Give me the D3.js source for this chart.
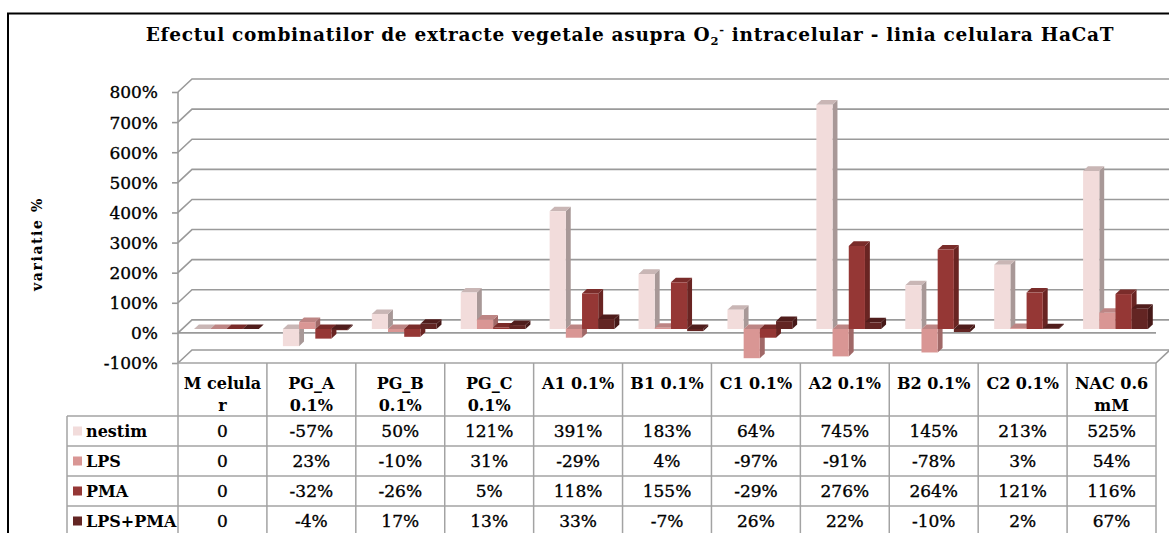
<!DOCTYPE html>
<html>
<head>
<meta charset="utf-8">
<script src="https://cdn.jsdelivr.net/npm/d3@7"></script>
<style>
  body { margin: 0; background: #fff; }
  svg { display: block; }
  text { font-family: "DejaVu Serif", serif; fill: #000; }
</style>
</head>
<body>
<div id="app"></div>
<script>
const categories = ["M celular", "PG_A 0.1%", "PG_B 0.1%", "PG_C 0.1%", "A1 0.1%", "B1 0.1%", "C1 0.1%", "A2 0.1%", "B2 0.1%", "C2 0.1%", "NAC 0.6 mM"];
// header text as it wraps in the data table
const categoryLines = [["M celula", "r"], ["PG_A", "0.1%"], ["PG_B", "0.1%"], ["PG_C", "0.1%"], ["A1 0.1%"], ["B1 0.1%"], ["C1 0.1%"], ["A2 0.1%"], ["B2 0.1%"], ["C2 0.1%"], ["NAC 0.6", "mM"]];
const seriesNames = ["nestim", "LPS", "PMA", "LPS+PMA"];
const nestim = [0, -57, 50, 121, 391, 183, 64, 745, 145, 213, 525];
const lps = [0, 23, -10, 31, -29, 4, -97, -91, -78, 3, 54];
const pma = [0, -32, -26, 5, 118, 155, -29, 276, 264, 121, 116];
const lpsPma = [0, -4, 17, 13, 33, -7, 26, 22, -10, 2, 67];
const yTicks = [-100, 0, 100, 200, 300, 400, 500, 600, 700, 800];

const seriesValues = [nestim, lps, pma, lpsPma];
const colors = {
  front: ["#f2dcdb", "#d99694", "#953735", "#632523"],
  top: ["#c9b6b5", "#bd8584", "#7a2c2a", "#501d1c"],
  side: ["#a89897", "#a06867", "#692422", "#461918"]
};

const width = 1169;
const height = 533;
const left = 178, right = 1156;
const depthX = 14, depthY = -13; // wall depth
const barD0 = 0.3, barD1 = 0.65;  // bars sit in the middle of the depth

const svg = d3.select("#app").append("svg")
  .attr("width", width)
  .attr("height", height)
  .attr("viewBox", [0, 0, width, height]);

const x = d3.scaleBand().domain(categories).range([left, right]);
const y = d3.scaleLinear().domain([-100, 800]).range([363, 92]);
const xs = d3.scaleBand().domain(seriesNames).range([11.8, 11.8 + 4 * 16.2]);

// frame
svg.append("path")
  .attr("d", `M8,${height} V13.5 H${width}`)
  .attr("fill", "none")
  .attr("stroke", "#000")
  .attr("stroke-width", 2);

// title, stretched to the width it has in the original
const title = svg.append("text")
  .attr("x", 630)
  .attr("y", 41)
  .attr("text-anchor", "middle")
  .attr("font-size", 18.5)
  .attr("font-weight", "bold");
title.append("tspan").text("Efectul combinatilor de  extracte vegetale asupra O");
title.append("tspan").attr("font-size", 11.5).attr("dy", 4).text("2");
title.append("tspan").attr("font-size", 11.5).attr("dy", -11).text("-");
title.append("tspan").attr("dy", 7).text(" intracelular - linia  celulara HaCaT");
const titleLen = title.node().getComputedTextLength();
const titleChars = title.text().length;
title.attr("letter-spacing", (970 - titleLen) / titleChars);

// back wall gridlines with the side wall diagonal
const grid = svg.append("g")
  .attr("fill", "none")
  .attr("stroke", "#9a9a9a")
  .attr("stroke-width", 1.6);

grid.selectAll("path")
  .data(yTicks)
  .join("path")
  .attr("d", d => `M${left},${y(d)} L${left + depthX},${y(d) + depthY} H${right + depthX}`);

// floor at the zero crossing and the bottom right edge
grid.append("path").attr("d", `M${left},${y(0)} H${right}`);
grid.append("path").attr("d", `M${right},${y(-100)} L${right + depthX},${y(-100) + depthY}`);

// y axis
const yAxis = svg.append("g")
  .attr("transform", `translate(${left},0)`)
  .call(d3.axisLeft(y).tickValues(yTicks).tickSize(6).tickPadding(14).tickFormat(d => d + "%"));
yAxis.selectAll("path, line").attr("stroke", "#9a9a9a").attr("stroke-width", 1.6);
yAxis.select(".domain").attr("d", `M0,${y(800)}V${y(-100)}`);
yAxis.selectAll("text")
  .attr("font-family", "'DejaVu Serif', serif")
  .attr("font-size", 17)
  .attr("stroke", "#000")
  .attr("stroke-width", 0.35)
  .attr("dy", "0.35em")
  .attr("fill", "#000");

svg.append("text")
  .attr("transform", "translate(42,244) rotate(-90)")
  .attr("text-anchor", "middle")
  .attr("font-size", 14)
  .attr("font-weight", "bold")
  .attr("letter-spacing", 1.6)
  .text("variatie %");

// 3d bars
const pt = (px, v, d) => [px + d * depthX, y(v) + d * depthY];
const poly = pts => "M" + pts.map(p => p.join(",")).join("L") + "Z";

const bars = svg.append("g");
categories.forEach((c, ci) => {
  seriesNames.forEach((s, si) => {
    const v = seriesValues[si][ci];
    const x0 = x(c) + xs(s);
    const x1 = x0 + xs.bandwidth();
    const hi = Math.max(v, 0), lo = Math.min(v, 0);
    const g = bars.append("g");
    g.append("path")
      .attr("fill", colors.side[si])
      .attr("d", poly([pt(x1, hi, barD0), pt(x1, lo, barD0), pt(x1, lo, barD1), pt(x1, hi, barD1)]));
    g.append("path")
      .attr("fill", colors.top[si])
      .attr("d", poly([pt(x0, hi, barD0), pt(x1, hi, barD0), pt(x1, hi, barD1), pt(x0, hi, barD1)]));
    g.append("path")
      .attr("fill", colors.front[si])
      .attr("d", poly([pt(x0, hi, barD0), pt(x1, hi, barD0), pt(x1, lo, barD0), pt(x0, lo, barD0)]));
  });
});

// data table
const tableTop = y(-100);
const headerBottom = 416;
const rowH = 30;
const legendLeft = 67;
const rowY = i => headerBottom + i * rowH;

const table = svg.append("g")
  .attr("fill", "none")
  .attr("stroke", "#a3a3a3")
  .attr("stroke-width", 1.5);

table.append("path").attr("d", `M${left},${tableTop} H${right}`);
table.selectAll(".hline")
  .data(d3.range(seriesNames.length + 1))
  .join("path")
  .attr("d", i => `M${legendLeft},${rowY(i)} H${right}`);
table.selectAll(".vline")
  .data(categories.concat(["end"]))
  .join("path")
  .attr("d", (c, i) => {
    const xx = i < categories.length ? x(c) : right;
    return `M${xx},${tableTop} V${height + 5}`;
  });
table.append("path").attr("d", `M${legendLeft},${headerBottom} V${height + 5}`);

// header labels
const header = svg.append("g")
  .attr("text-anchor", "middle")
  .attr("font-size", 16)
  .attr("font-weight", "bold");
categoryLines.forEach((lines, ci) => {
  lines.forEach((line, li) => {
    header.append("text")
      .attr("x", x(categories[ci]) + x.bandwidth() / 2)
      .attr("y", 389 + li * 22)
      .text(line);
  });
});

// legend column
const legend = svg.append("g");
seriesNames.forEach((s, si) => {
  const cy = rowY(si) + rowH / 2;
  legend.append("rect")
    .attr("x", 73)
    .attr("y", cy - 4.5)
    .attr("width", 9)
    .attr("height", 9)
    .attr("fill", colors.front[si]);
  legend.append("text")
    .attr("x", 86)
    .attr("y", cy + 6)
    .attr("font-size", 16)
    .attr("font-weight", "bold")
    .text(s);
});

// values
const fmt = v => v === 0 ? "0" : v + "%";
const cells = svg.append("g")
  .attr("text-anchor", "middle")
  .attr("font-size", 17)
  .attr("stroke", "#000")
  .attr("stroke-width", 0.35);
seriesValues.forEach((vals, si) => {
  cells.selectAll(null)
    .data(vals)
    .join("text")
    .attr("x", (v, ci) => x(categories[ci]) + x.bandwidth() / 2)
    .attr("y", rowY(si) + rowH / 2 + 6)
    .text(fmt);
});
</script>
</body>
</html>
